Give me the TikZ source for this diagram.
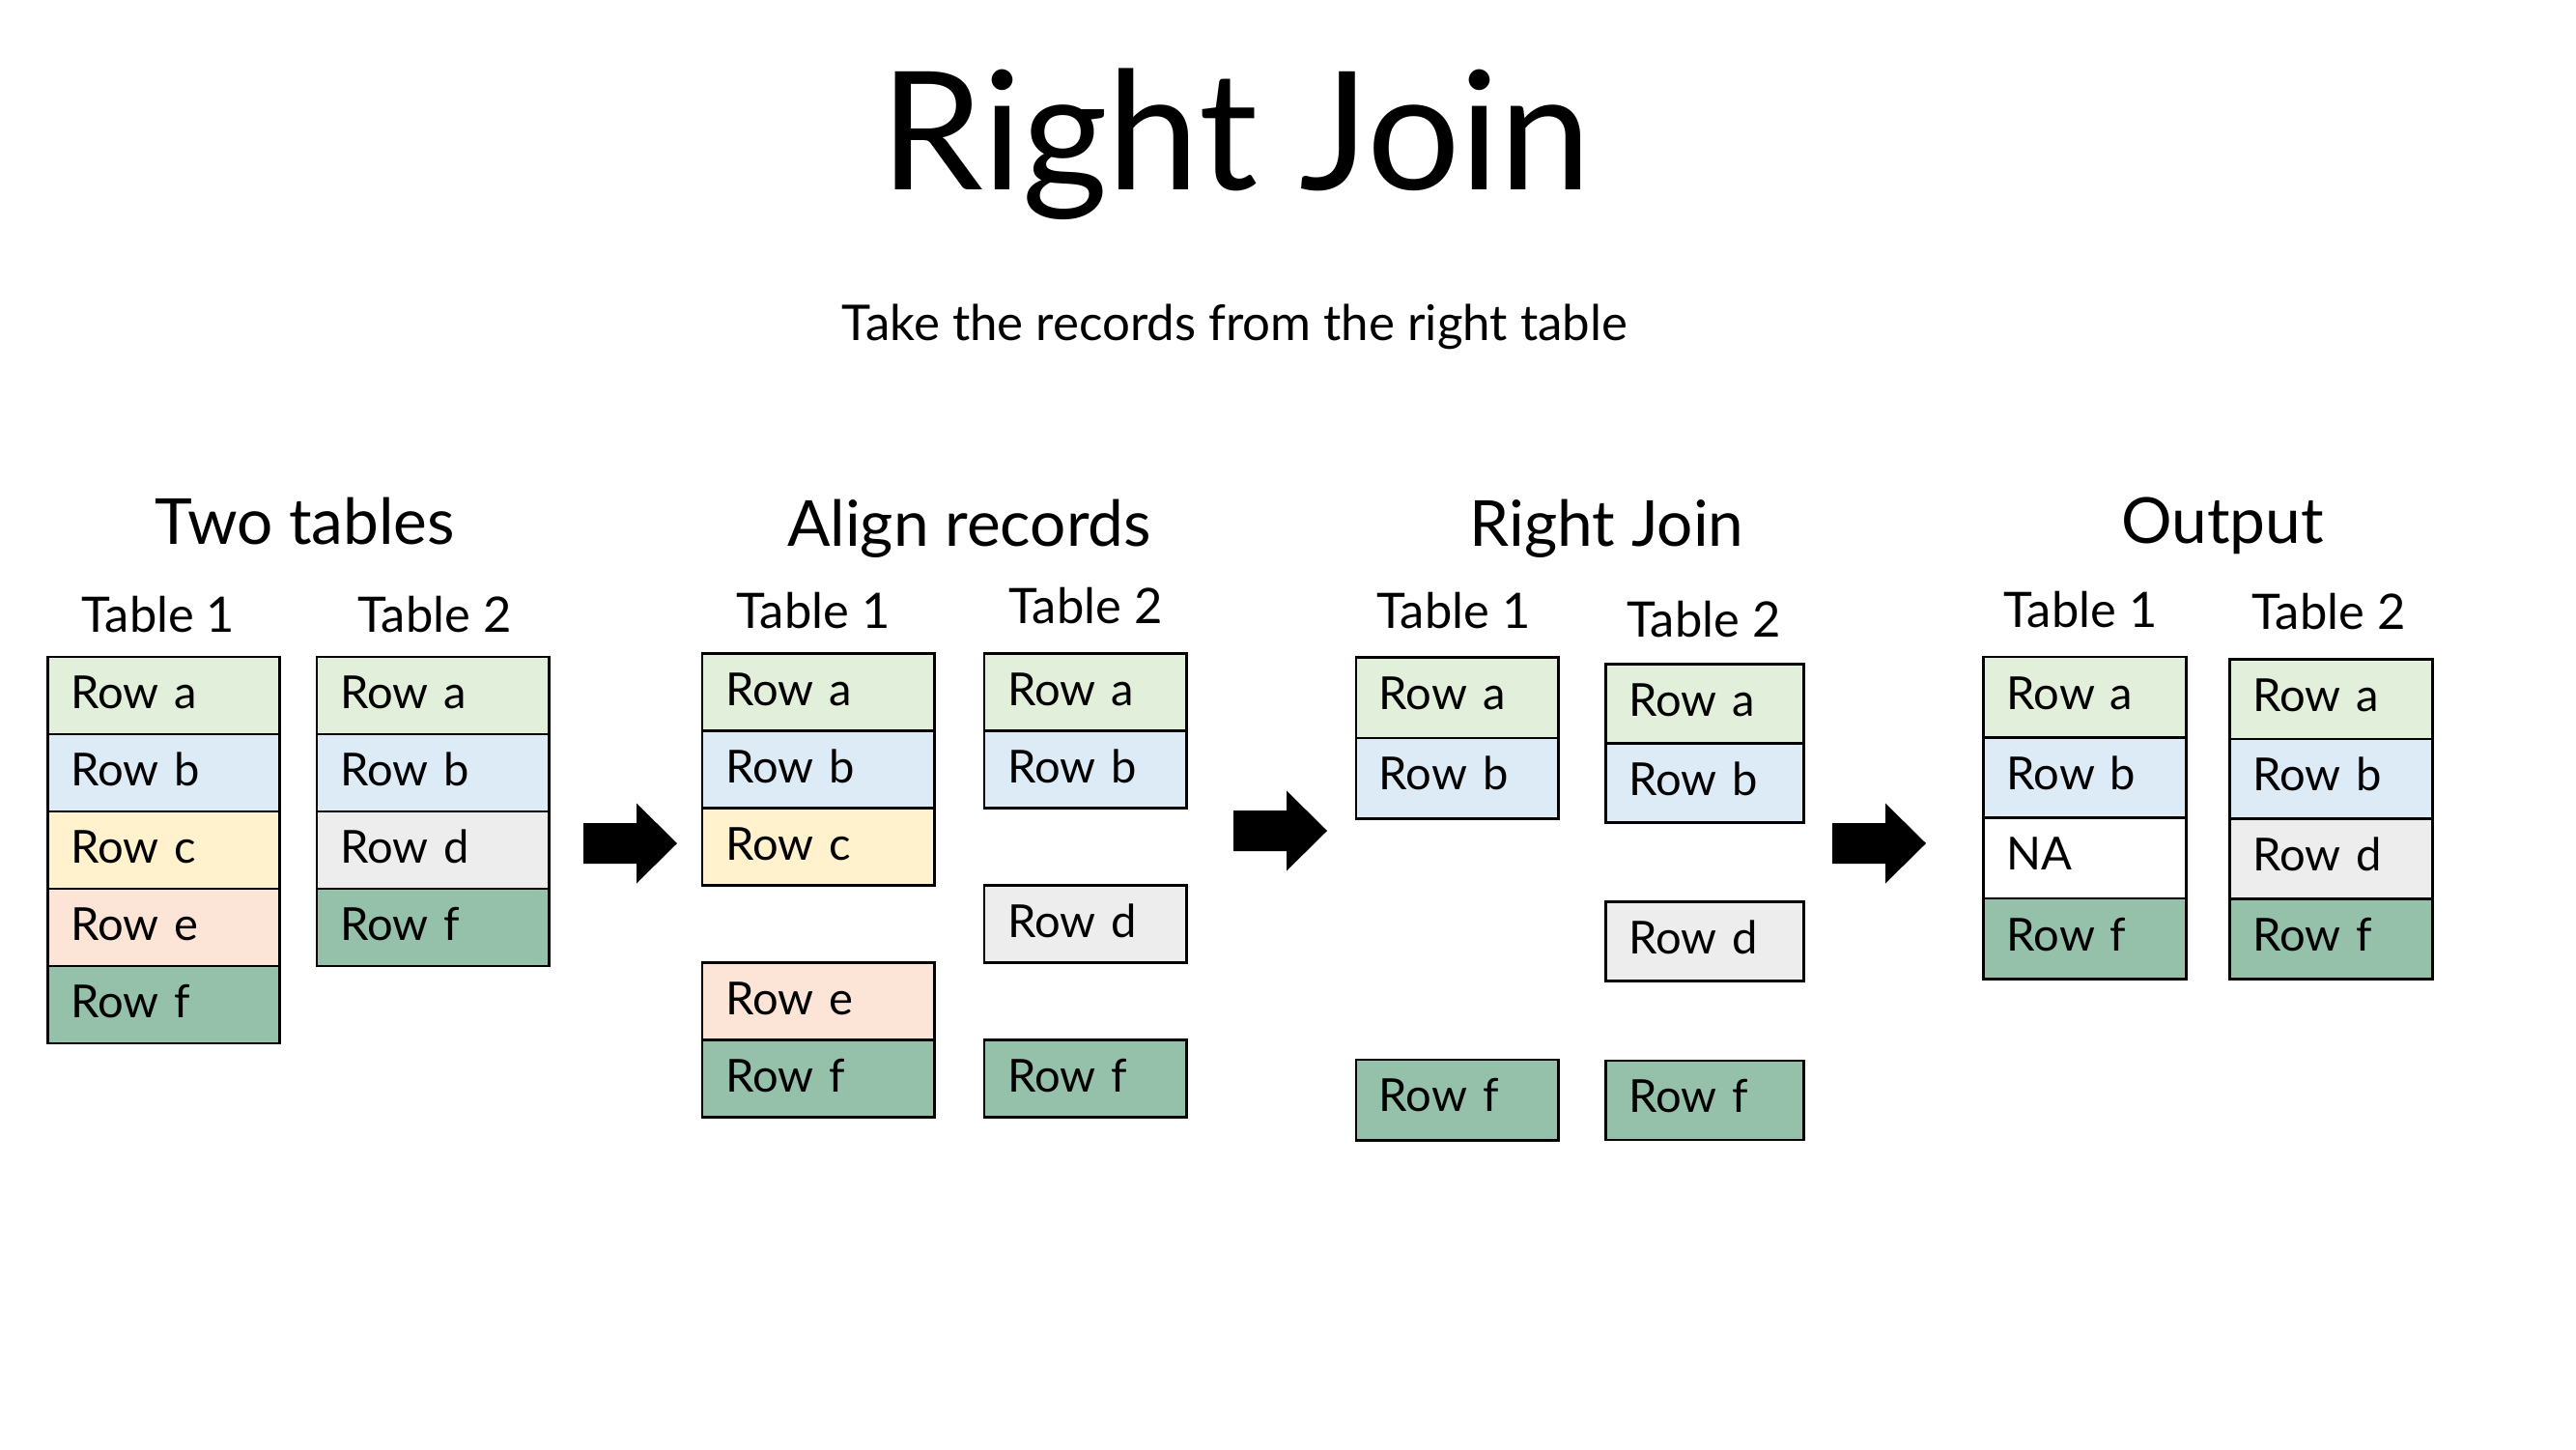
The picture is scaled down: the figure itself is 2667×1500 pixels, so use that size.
\documentclass[tikz,border=0pt]{standalone}
\usepackage{fontspec}
\setmainfont{Lato}
\definecolor{rowa}{HTML}{E2EFDA}
\definecolor{rowb}{HTML}{DDEBF7}
\definecolor{rowc}{HTML}{FFF2CC}
\definecolor{rowd}{HTML}{EDEDED}
\definecolor{rowe}{HTML}{FCE4D6}
\definecolor{rowf}{HTML}{95C1AB}
\begin{document}
\begin{tikzpicture}[x=0.01cm,y=-0.01cm,
  every node/.style={inner sep=0pt},
  maintitle/.style={font=\fontsize{48.5pt}{58pt}\selectfont, anchor=base},
  subtitle/.style={font=\fontsize{14.5pt}{17pt}\selectfont, anchor=base},
  header/.style={font=\fontsize{18.7pt}{22pt}\selectfont, anchor=base},
  tlabel/.style={font=\fontsize{14.4pt}{18pt}\selectfont, anchor=base},
  cell/.style={draw=black, line width=0.8pt, anchor=north west, align=left,
    font=\fontsize{13.4pt}{16pt}\selectfont, inner xsep=2.4mm, inner ysep=0pt,
    text height=5.4mm},
  roww/.style={text width=#1},
  rowh/.style={text depth=#1},
  blockarrow/.pic={\fill[black] (0,-21) -- (55,-21) -- (55,-41.5) -- (97,0)
    -- (55,41.5) -- (55,21) -- (0,21) -- cycle;}
]
\fill[white] (0,0) rectangle (2667,1500);
\useasboundingbox (0,0) rectangle (2667,1500);

% titles
\node[maintitle] (title) at (1279.5,196) {Right Join};
\node[subtitle] (sub) at (1278.5,352) {Take the records from the right table};

% panel headings
\node[header] (h1) at (316,563) {Two tables};
\node[header] (h2) at (1003.5,565) {Align records};
\node[header] (h3) at (1663.5,565) {Right Join};
\node[header] (h4) at (2301,562) {Output};

% table labels
\node[tlabel] (l11) at (164,654) {Table 1};
\node[tlabel] (l12) at (450,654) {Table 2};
\node[tlabel] (l21) at (842,650) {Table 1};
\node[tlabel] (l22) at (1124,645) {Table 2};
\node[tlabel] (l31) at (1505,650) {Table 1};
\node[tlabel] (l32) at (1764,659) {Table 2};
\node[tlabel] (l41) at (2154,649) {Table 1};
\node[tlabel] (l42) at (2411,651) {Table 2};

% panel 1: two tables
\begin{scope}[every node/.append style={cell, roww=19.2mm, rowh=2.6mm}]
\node[fill=rowa] (p1a1) at (48,678.5) {Row a};
\node[fill=rowb] (p1b1) at (48,758.5) {Row b};
\node[fill=rowc] (p1c1) at (48,838.5) {Row c};
\node[fill=rowe] (p1e1) at (48,918.5) {Row e};
\node[fill=rowf] (p1f1) at (48,998.5) {Row f};
\node[fill=rowa] (p1a2) at (326.6,678.5) {Row a};
\node[fill=rowb] (p1b2) at (326.6,758.5) {Row b};
\node[fill=rowd] (p1d2) at (326.6,838.5) {Row d};
\node[fill=rowf] (p1f2) at (326.6,918.5) {Row f};
\end{scope}

% panel 2: aligned records
\begin{scope}[every node/.append style={cell, rowh=2.6mm}]
\node[roww=19.2mm, fill=rowa] (p2a1) at (725.6,675) {Row a};
\node[roww=19.2mm, fill=rowb] (p2b1) at (725.6,755) {Row b};
\node[roww=19.2mm, fill=rowc] (p2c1) at (725.6,835) {Row c};
\node[roww=19.2mm, fill=rowe] (p2e1) at (725.6,995) {Row e};
\node[roww=19.2mm, fill=rowf] (p2f1) at (725.6,1075) {Row f};
\node[roww=16.14mm, fill=rowa] (p2a2) at (1017.6,675) {Row a};
\node[roww=16.14mm, fill=rowb] (p2b2) at (1017.6,755) {Row b};
\node[roww=16.14mm, fill=rowd] (p2d2) at (1017.6,915) {Row d};
\node[roww=16.14mm, fill=rowf] (p2f2) at (1017.6,1075) {Row f};
\end{scope}

% panel 3: right join
\begin{scope}[every node/.append style={cell}]
\node[roww=16.15mm, rowh=2.95mm, fill=rowa] (p3a1) at (1402.5,679) {Row a};
\node[roww=16.15mm, rowh=2.95mm, fill=rowb] (p3b1) at (1402.5,762.5) {Row b};
\node[roww=16.15mm, rowh=2.95mm, fill=rowf] (p3f1) at (1402.5,1095.5) {Row f};
\node[roww=15.7mm, rowh=2.8mm, fill=rowa] (p3a2) at (1661,686) {Row a};
\node[roww=15.7mm, rowh=2.8mm, fill=rowb] (p3b2) at (1661,768) {Row b};
\node[roww=15.7mm, rowh=2.8mm, fill=rowd] (p3d2) at (1661,932) {Row d};
\node[roww=15.7mm, rowh=2.8mm, fill=rowf] (p3f2) at (1661,1096.5) {Row f};
\end{scope}

% panel 4: output
\begin{scope}[every node/.append style={cell, roww=16.16mm}]
\node[rowh=2.935mm, fill=rowa] (p4a1) at (2052.4,678.6) {Row a};
\node[rowh=2.935mm, fill=rowb] (p4b1) at (2052.4,761.95) {Row b};
\node[rowh=2.935mm, fill=white] (p4n1) at (2052.4,845.3) {NA};
\node[rowh=2.935mm, fill=rowf] (p4f1) at (2052.4,928.65) {Row f};
\node[rowh=2.88mm, fill=rowa] (p4a2) at (2307,680.7) {Row a};
\node[rowh=2.88mm, fill=rowb] (p4b2) at (2307,763.5) {Row b};
\node[rowh=2.88mm, fill=rowd] (p4d2) at (2307,846.3) {Row d};
\node[rowh=2.88mm, fill=rowf] (p4f2) at (2307,929.1) {Row f};
\end{scope}

% step arrows
\pic at (604,873) {blockarrow};
\pic at (1277,860) {blockarrow};
\pic at (1897,873) {blockarrow};
\end{tikzpicture}
\end{document}
